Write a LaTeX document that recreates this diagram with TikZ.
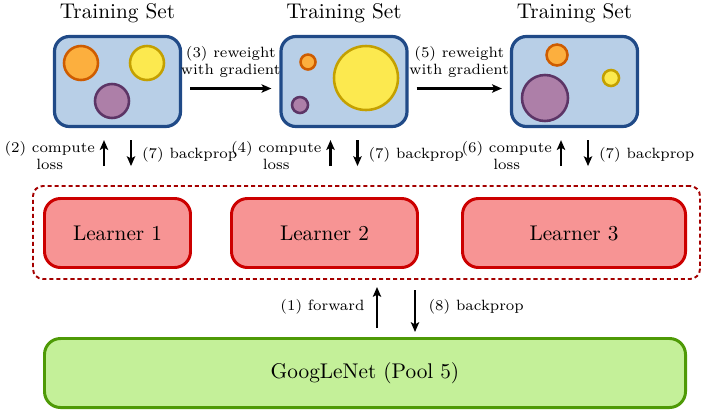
\documentclass[tikz,border=0pt]{standalone}
\usetikzlibrary{arrows.meta,calc}
\definecolor{tsfill}{HTML}{B8CFE7}
\definecolor{tsdraw}{HTML}{204A87}
\definecolor{lfill}{HTML}{F79494}
\definecolor{ldraw}{HTML}{CC0000}
\definecolor{gfill}{HTML}{C4F099}
\definecolor{gdraw}{HTML}{4E9A06}
\definecolor{dashc}{HTML}{A40000}
\definecolor{orF}{HTML}{FCAF3E}\definecolor{orD}{HTML}{CE5C00}
\definecolor{yeF}{HTML}{FCE94F}\definecolor{yeD}{HTML}{C4A000}
\definecolor{puF}{HTML}{AD7FA8}\definecolor{puD}{HTML}{5C3566}
\def\pxu{0.4704pt}
\begin{document}
\begin{tikzpicture}[x=0.4704pt,y=-0.4704pt,
  tsbox/.style={draw=tsdraw,fill=tsfill,line width=1.5pt,rounded corners=7pt,
    minimum width={126*\pxu},minimum height={90*\pxu},inner sep=0pt},
  ttl/.style={inner sep=0pt},
  blob/.style={circle,line width=1.2pt,inner sep=0pt},
  orc/.style={blob,draw=orD,fill=orF},
  yec/.style={blob,draw=yeD,fill=yeF},
  puc/.style={blob,draw=puD,fill=puF},
  lbox/.style={draw=ldraw,fill=lfill,line width=1.4pt,rounded corners=7.5pt,
    minimum height={69*\pxu},inner sep=0pt},
  gbox/.style={draw=gdraw,fill=gfill,line width=1.4pt,rounded corners=7.5pt,
    minimum height={69*\pxu},inner sep=0pt},
  dbox/.style={draw=dashc,line width=0.9pt,dash pattern=on 1.9pt off 1.4pt,
    rounded corners=4.7pt,inner sep=0pt},
  arr/.style={-{Stealth[length=4.6pt,width=3.9pt,inset=1pt]},line width=1pt},
  lbl/.style={font=\scriptsize,inner sep=1pt,align=center}
]
\useasboundingbox (0,0) rectangle (718,413);

% training sets
\node[tsbox] (b1) at (117.5,81.5) {};
\node[tsbox] (b2) at (344,81.5) {};
\node[tsbox] (b3) at (574.5,81.5) {};
\node[ttl] (t1) at (117.5,13) {Training Set};
\node[ttl] (t2) at (344,13) {Training Set};
\node[ttl] (t3) at (574.5,13) {Training Set};

% blobs
\node[orc,minimum size={34*\pxu}] (c11) at (81,63) {};
\node[yec,minimum size={34*\pxu}] (c12) at (147,63) {};
\node[puc,minimum size={34*\pxu}] (c13) at (112,101) {};
\node[orc,minimum size={15*\pxu}] (c21) at (308,62) {};
\node[puc,minimum size={16*\pxu}] (c22) at (300,105) {};
\node[yec,minimum size={64*\pxu}] (c23) at (366,78) {};
\node[orc,minimum size={21*\pxu}] (c31) at (557,55) {};
\node[yec,minimum size={16*\pxu}] (c32) at (611,78) {};
\node[puc,minimum size={46*\pxu}] (c33) at (545,98) {};

% reweight arrows
\draw[arr] ($(b1.east)+(8,7)$) -- ($(b2.west)+(-8,7)$);
\draw[arr] ($(b2.east)+(8,7)$) -- ($(b3.west)+(-8,7)$);
\node[lbl] (r3) at ($(b1.east)!0.5!(b2.west)+(0,-20)$) {(3) reweight\\with gradient};
\node[lbl] (r5) at ($(b2.east)!0.5!(b3.west)+(0,-20)$) {(5) reweight\\with gradient};

% compute loss / backprop arrows
\foreach \b/\n in {b1/2,b2/4,b3/6}{
  \draw[arr] ($(\b.south)+(-13.5,38)$) -- ($(\b.south)+(-13.5,12)$);
  \draw[arr] ($(\b.south)+(13.5,12)$) -- ($(\b.south)+(13.5,38)$);
  \node[lbl,anchor=east] (cl\b) at ($(\b.south)+(-20,27)$) {(\n) compute\\loss};
  \node[lbl,anchor=west] (bp\b) at ($(\b.south)+(22,27)$) {(7) backprop};
}

% learners
\node[dbox,minimum width={667*\pxu},minimum height={93*\pxu}] (d) at (366.5,232.5) {};
\node[lbox,minimum width={146*\pxu}] (l1) at (117.5,233) {Learner 1};
\node[lbox,minimum width={186*\pxu}] (l2) at (324.5,233) {Learner 2};
\node[lbox,minimum width={223*\pxu}] (l3) at (574,233) {Learner 3};

% googlenet
\node[gbox,minimum width={641*\pxu}] (g) at (365,373) {GoogLeNet (Pool 5)};
\draw[arr] ($(g.north)+(12,-9)$) -- ($(g.north)+(12,-50)$);
\draw[arr] ($(g.north)+(50,-47)$) -- ($(g.north)+(50,-5)$);
\node[lbl,anchor=east] (fw) at ($(g.north)+(2,-30)$) {(1) forward};
\node[lbl,anchor=west] (bp8) at ($(g.north)+(61,-30)$) {(8) backprop};
\end{tikzpicture}
\end{document}
